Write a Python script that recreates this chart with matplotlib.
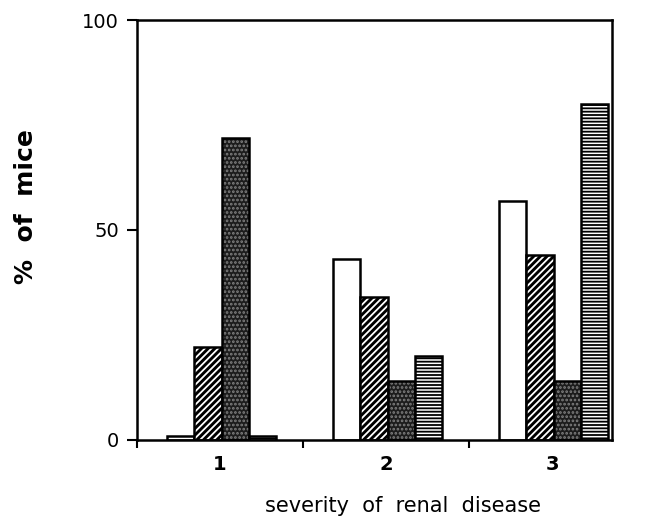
import numpy as np
import matplotlib
matplotlib.use("Agg")
import matplotlib.pyplot as plt

# data
severity = ["1", "2", "3"]
normal = [1, 43, 57]
hatched = [22, 34, 44]
stippled = [72, 14, 14]
striped = [1, 20, 80]

plt.rcParams['hatch.linewidth'] = 1.3

fig = plt.figure(figsize=(6.46, 5.28), dpi=100)
ax = fig.add_axes([0.212, 0.167, 0.735, 0.795])

x = np.arange(1, 4) + 0.01
w = 0.165
offs = [-1.5 * w, -0.5 * w, 0.5 * w, 1.5 * w]

ax.bar(x + offs[0], normal, w, facecolor='white', edgecolor='black', linewidth=1.8)
ax.bar(x + offs[1], hatched, w, facecolor='black', edgecolor='white', hatch='/////', linewidth=0)
ax.bar(x + offs[1], hatched, w, fill=False, edgecolor='black', linewidth=1.8)
ax.bar(x + offs[2], stippled, w, facecolor='#1c1c1c', edgecolor='#808080', hatch='....', linewidth=0)
ax.bar(x + offs[2], stippled, w, fill=False, edgecolor='black', linewidth=1.8)
ax.bar(x + offs[3], striped, w, facecolor='white', edgecolor='black', hatch='-----', linewidth=0)
ax.bar(x + offs[3], striped, w, fill=False, edgecolor='black', linewidth=1.8)

ax.set_xlim(0.5, 3.36)
ax.set_ylim(0, 100)

ax.set_yticks([0, 50, 100])
ax.tick_params(axis='y', direction='out', length=7, width=1.5, labelsize=14, pad=6)
ax.set_xticks([0.5, 1.5, 2.5])
ax.set_xticklabels([])
ax.set_xticks([1, 2, 3], minor=True)
ax.set_xticklabels(severity, minor=True, fontsize=14, fontweight='bold')
ax.tick_params(axis='x', which='major', direction='out', length=6, width=1.5)
ax.tick_params(axis='x', which='minor', length=0, pad=11)

for s in ax.spines.values():
    s.set_linewidth(1.8)

ax.set_xlabel("severity  of  renal  disease", fontsize=15)
ax.xaxis.set_label_coords(0.56, -0.134)
ax.set_ylabel("%  of  mice", fontsize=18, fontweight='bold')
ax.yaxis.set_label_coords(-0.208, 0.555)

plt.savefig("out.png", dpi=100)
